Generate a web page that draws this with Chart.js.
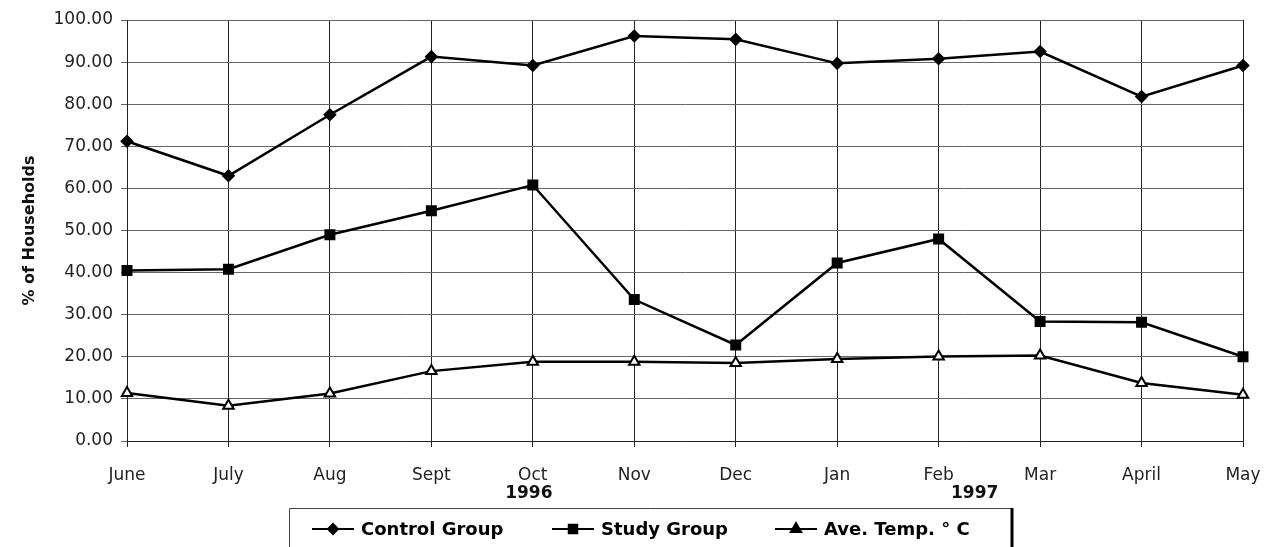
<!DOCTYPE html>
<html lang="en">
<head>
  <meta charset="UTF-8" />
  <title>% of Households</title>
  <script src="https://cdn.jsdelivr.net/npm/chart.js"></script>
  <style>
    body { margin: 0; background: #fff; }
  </style>
</head>
<body>
  <canvas id="chartCanvas" width="1268" height="547"></canvas>

  <script>
    const months = ['June', 'July', 'Aug', 'Sept', 'Oct', 'Nov', 'Dec', 'Jan', 'Feb', 'Mar', 'April', 'May'];
    const controlGroup = [71.2, 63.0, 77.5, 91.3, 89.2, 96.2, 95.4, 89.7, 90.8, 92.5, 81.8, 89.2];
    const studyGroup = [40.5, 40.8, 49.0, 54.7, 60.8, 33.6, 22.8, 42.3, 48.0, 28.4, 28.2, 20.0];
    const aveTemp = [11.4, 8.4, 11.3, 16.6, 18.8, 18.8, 18.5, 19.5, 20.1, 20.3, 13.8, 11.0];
    const yearLabels = ['', '', '', '', '1996', '', '', '', '1997', '', '', ''];
    const legendNames = ['Control Group', 'Study Group', 'Ave. Temp. \u00b0 C'];

    const tickFont = { family: 'DejaVu Sans', size: 17 };

    // years under Oct / Feb and the boxed legend at the bottom
    const extras = {
      id: 'extras',
      afterDraw(chart) {
        const ctx = chart.ctx;
        const x = chart.scales.x;
        ctx.save();
        ctx.fillStyle = '#111';
        ctx.font = 'bold 17px "DejaVu Sans"';
        ctx.textAlign = 'center';
        ctx.textBaseline = 'middle';
        yearLabels.forEach((t, i) => {
          if (!t) return;
          const shift = i === 8 ? 36 : -4;
          ctx.fillText(t, x.getPixelForValue(i) + shift, 494);
        });

        // legend box
        ctx.strokeStyle = '#444';
        ctx.lineWidth = 1;
        ctx.beginPath();
        ctx.moveTo(289.5, 547);
        ctx.lineTo(289.5, 508.5);
        ctx.lineTo(1011, 508.5);
        ctx.stroke();
        ctx.lineWidth = 3;
        ctx.strokeStyle = '#000';
        ctx.beginPath();
        ctx.moveTo(1012, 508);
        ctx.lineTo(1012, 547);
        ctx.stroke();

        const itemX = [312, 552, 775];
        ctx.font = 'bold 18px "DejaVu Sans"';
        ctx.textAlign = 'left';
        chart.data.datasets.forEach((ds, i) => {
          const y = 529;
          ctx.strokeStyle = '#000';
          ctx.lineWidth = 2;
          ctx.beginPath();
          ctx.moveTo(itemX[i], y);
          ctx.lineTo(itemX[i] + 42, y);
          ctx.stroke();
          Chart.helpers.drawPoint(ctx, {
            pointStyle: ds.pointStyle, radius: ds.pointRadius, rotation: 0, borderWidth: 1
          }, itemX[i] + 21, y);
          ctx.fillStyle = '#000';
          ctx.fill();
          ctx.fillText(legendNames[i], itemX[i] + 49, y + 1);
        });
        ctx.restore();
      }
    };

    const ctx = document.getElementById('chartCanvas').getContext('2d');
    new Chart(ctx, {
      type: 'line',
      data: {
        labels: months,
        datasets: [
          {
            label: legendNames[0],
            data: controlGroup,
            borderColor: '#000',
            borderWidth: 2.5,
            pointStyle: 'rectRot',
            pointRadius: 5,
            pointBackgroundColor: '#000',
            pointBorderColor: '#000',
            tension: 0
          },
          {
            label: legendNames[1],
            data: studyGroup,
            borderColor: '#000',
            borderWidth: 2.5,
            pointStyle: 'rect',
            pointRadius: 6,
            pointBackgroundColor: '#000',
            pointBorderColor: '#000',
            tension: 0
          },
          {
            label: legendNames[2],
            data: aveTemp,
            borderColor: '#000',
            borderWidth: 2.5,
            pointStyle: 'triangle',
            pointRadius: 6,
            pointBackgroundColor: '#fff',
            pointBorderColor: '#000',
            pointBorderWidth: 2,
            tension: 0
          }
        ]
      },
      options: {
        responsive: false,
        animation: false,
        layout: { padding: { left: 20, right: 25, top: 20, bottom: 0 } },
        plugins: {
          legend: { display: false },
          tooltip: { enabled: false }
        },
        scales: {
          x: {
            offset: false,
            grid: { color: '#222', lineWidth: 1, tickLength: 6 },
            border: { color: '#222' },
            ticks: { font: tickFont, color: '#222', padding: 18, maxRotation: 0, autoSkip: false },
            afterFit(scale) {
              scale.height = 106;
              scale.paddingRight = 0;
              scale.paddingLeft = 0;
            }
          },
          y: {
            min: 0,
            max: 100,
            grid: { color: '#666', lineWidth: 1, tickLength: 6 },
            border: { color: '#222' },
            ticks: {
              stepSize: 10,
              font: tickFont,
              color: '#222',
              padding: 8,
              callback: v => v.toFixed(2)
            },
            title: {
              display: true,
              text: '% of Households',
              font: { family: 'DejaVu Sans', size: 16, weight: 'bold' },
              color: '#111',
              padding: 0
            },
            afterFit(scale) { scale.width = 127 - 20; }
          }
        }
      },
      plugins: [extras]
    });
  </script>
</body>
</html>
